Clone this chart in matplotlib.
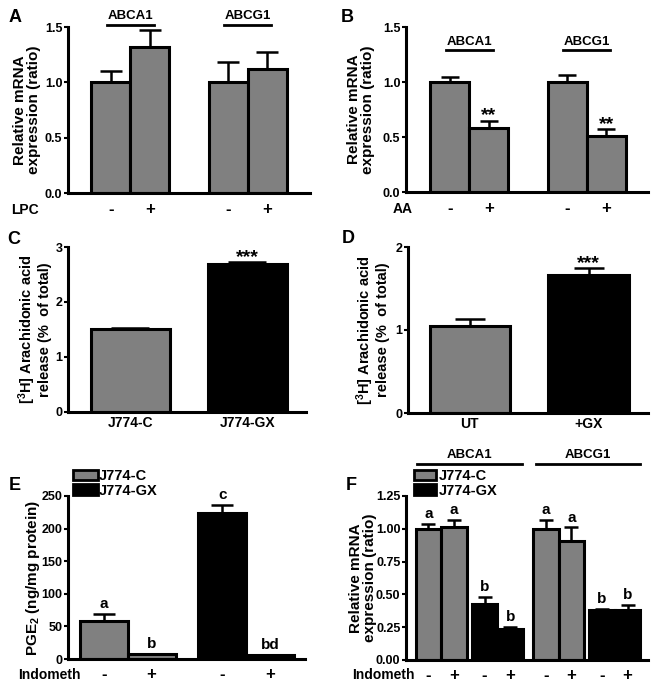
import matplotlib
matplotlib.use("agg")
import matplotlib.pyplot as plt
from matplotlib.patches import Patch

plt.rcParams['font.family'] = 'Liberation Sans'
plt.rcParams['font.weight'] = 'bold'
plt.rcParams['mathtext.fontset'] = 'custom'
plt.rcParams['mathtext.rm'] = 'Liberation Sans:bold'
plt.rcParams['mathtext.default'] = 'rm'

# data
a_vals = [1.00, 1.32, 1.00, 1.12]
a_err = [0.10, 0.15, 0.18, 0.15]
b_vals = [1.00, 0.58, 1.00, 0.51]
b_err = [0.05, 0.07, 0.06, 0.06]
b_marks = ['', '**', '', '**']
c_labels = ['J774-C', 'J774-GX']
c_vals = [1.51, 2.69]
c_err = [0.01, 0.04]
d_labels = ['UT', '+GX']
d_vals = [1.05, 1.66]
d_err = [0.08, 0.09]
e_vals = [58, 8, 224, 6]
e_err = [11, 0, 12, 0]
e_letters = ['a', 'b', 'c', 'bd']
f_vals = [1.00, 1.01, 0.43, 0.24, 1.00, 0.91, 0.38, 0.38]
f_err = [0.04, 0.06, 0.05, 0.01, 0.07, 0.10, 0.01, 0.04]
f_letters = ['a', 'a', 'b', 'b', 'a', 'a', 'b', 'b']
genes = ['ABCA1', 'ABCG1']
treat4 = ['-', '+', '-', '+']
treat8 = ['-', '+', '-', '+', '-', '+', '-', '+']

GRAY = '#808080'
W, H = 657, 691
fig = plt.figure(figsize=(W / 100, H / 100), dpi=100)


def add_ax(x0, y0, x1, y1):
    ax = fig.add_axes([x0 / W, 1 - y1 / H, (x1 - x0) / W, (y1 - y0) / H])
    ax.spines['top'].set_visible(False)
    ax.spines['right'].set_visible(False)
    ax.spines['left'].set_linewidth(2.2)
    ax.spines['bottom'].set_linewidth(2.2)
    ax.tick_params(axis='y', direction='out', length=3, width=1.5, labelsize=9, pad=1)
    ax.tick_params(axis='x', length=0, labelsize=12)
    return ax


def bars(ax, pos, vals, err, colors, cap):
    ax.bar(pos, vals, width=1, color=colors, edgecolor='black', linewidth=2.2, zorder=2)
    ax.errorbar(pos, vals, yerr=[[0] * len(vals), err], fmt='none', ecolor='black',
                elinewidth=1.8, capsize=cap, capthick=1.8, zorder=1)


def ylab(ax, x, text, size=11):
    ax.text(x, 0.5, text, transform=ax.transAxes, rotation=90, ha='center', va='center',
            fontsize=size, multialignment='center', linespacing=1.0)


# ---------- A ----------
pos4 = [0, 1, 3, 4]
ax = add_ax(68, 27, 310, 193)
bars(ax, pos4, a_vals, a_err, GRAY, 8)
ax.set_ylim(0, 1.5)
ax.set_xlim(-1.1, 5.1)
ax.set_yticks([0, 0.5, 1.0, 1.5])
ax.set_yticklabels(['0.0', '0.5', '1.0', '1.5'])
ax.set_xticks(pos4)
ax.set_xticklabels(treat4, va='center')
ax.tick_params(axis='x', pad=12)
ax.text(-0.18, -0.1, 'LPC', transform=ax.transAxes, ha='center', va='center', fontsize=10)
for g, c in zip(genes, [0.5, 3.5]):
    ax.text(c, 1.595, g, ha='center', va='center', fontsize=9.5)
    ax.plot([c - 0.6, c + 0.6], [1.52, 1.52], color='black', lw=2, clip_on=False)
ylab(ax, -0.17, 'Relative mRNA\nexpression (ratio)')
fig.text(15 / W, 1 - 18 / H, 'A', fontsize=13, ha='center', va='center')

# ---------- B ----------
ax = add_ax(406, 27, 648, 192)
bars(ax, pos4, b_vals, b_err, GRAY, 6.5)
ax.set_ylim(0, 1.5)
ax.set_xlim(-1.12, 5.07)
ax.set_yticks([0, 0.5, 1.0, 1.5])
ax.set_yticklabels(['0.0', '0.5', '1.0', '1.5'])
ax.set_xticks(pos4)
ax.set_xticklabels(treat4, va='center')
ax.tick_params(axis='x', pad=12)
ax.text(-0.015, -0.1, 'AA', transform=ax.transAxes, ha='center', va='center', fontsize=10)
for p, v, e, m in zip(pos4, b_vals, b_err, b_marks):
    ax.text(p, v + e, m, ha='center', va='baseline', fontsize=14)
for g, c in zip(genes, [0.5, 3.5]):
    ax.text(c, 1.36, g, ha='center', va='center', fontsize=9.5)
    ax.plot([c - 0.6, c + 0.6], [1.29, 1.29], color='black', lw=2, clip_on=False)
ylab(ax, -0.185, 'Relative mRNA\nexpression (ratio)')
fig.text(347 / W, 1 - 17 / H, 'B', fontsize=13, ha='center', va='center')

# ---------- C ----------
pos2 = [0, 1.48]
ax = add_ax(68, 247, 306, 412)
bars(ax, pos2, c_vals, c_err, [GRAY, 'black'], 14)
ax.set_ylim(0, 3)
ax.set_xlim(-0.79, 2.22)
ax.set_yticks([0, 1, 2, 3])
ax.set_xticks(pos2)
ax.set_xticklabels(c_labels, va='center', fontsize=10)
ax.tick_params(axis='x', pad=8)
ax.text(pos2[1], c_vals[1] + c_err[1], '***', ha='center', va='baseline', fontsize=14)
ylab(ax, -0.143, '[$^{3}$H] Arachidonic acid\nrelease (%  of total)', 10.5)
fig.text(14 / W, 1 - 240 / H, 'C', fontsize=13, ha='center', va='center')

# ---------- D ----------
ax = add_ax(408, 247, 648, 413)
bars(ax, pos2, d_vals, d_err, [GRAY, 'black'], 11)
ax.set_ylim(0, 2)
ax.set_xlim(-0.77, 2.22)
ax.set_yticks([0, 1, 2])
ax.set_xticks(pos2)
ax.set_xticklabels(d_labels, va='center', fontsize=10)
ax.tick_params(axis='x', pad=8)
ax.text(pos2[1], d_vals[1] + d_err[1], '***', ha='center', va='baseline', fontsize=14)
ylab(ax, -0.15, '[$^{3}$H] Arachidonic acid\nrelease (%  of total)', 10.5)
fig.text(348 / W, 1 - 239 / H, 'D', fontsize=13, ha='center', va='center')

# ---------- E ----------
pos_e = [0, 1, 2.48, 3.48]
cols4 = [GRAY, GRAY, 'black', 'black']
ax = add_ax(68, 496, 305, 659)
bars(ax, pos_e, e_vals, e_err, cols4, 8)
ax.set_ylim(0, 250)
ax.set_xlim(-0.75, 4.21)
ax.set_yticks([0, 50, 100, 150, 200, 250])
ax.set_xticks(pos_e)
ax.set_xticklabels(treat4, va='center')
ax.tick_params(axis='x', pad=11)
ax.text(-0.077, -0.098, 'Indometh', transform=ax.transAxes, ha='center', va='center', fontsize=10)
for p, v, e, l in zip(pos_e, e_vals, e_err, e_letters):
    ax.annotate(l, (p, v + e), xytext=(0, 2), textcoords='offset points',
                ha='center', va='bottom', fontsize=11)
ylab(ax, -0.148, 'PGE$_{2}$ (ng/mg protein)')
handles = [Patch(facecolor=GRAY, edgecolor='black', linewidth=2),
           Patch(facecolor='black', edgecolor='black', linewidth=2)]
ax.legend(handles, ['J774-C', 'J774-GX'], loc='lower left', bbox_to_anchor=(0.02, 0.99),
          frameon=False, fontsize=10.5, handlelength=1.7, handleheight=0.7,
          handletextpad=0.1, labelspacing=0.02, borderpad=0, borderaxespad=0)
fig.text(15 / W, 1 - 486 / H, 'E', fontsize=13, ha='center', va='center')

# ---------- F ----------
pos_f = [0, 1, 2.2, 3.2, 4.6, 5.6, 6.8, 7.8]
cols8 = [GRAY, GRAY, 'black', 'black', GRAY, GRAY, 'black', 'black']
ax = add_ax(406, 496, 648, 660)
bars(ax, pos_f, f_vals, f_err, cols8, 5)
ax.set_ylim(0, 1.25)
ax.set_xlim(-0.88, 8.6)
ax.set_yticks([0, 0.25, 0.5, 0.75, 1.0, 1.25])
ax.set_yticklabels(['0.00', '0.25', '0.50', '0.75', '1.00', '1.25'])
ax.set_xticks(pos_f)
ax.set_xticklabels(treat8, va='center')
ax.tick_params(axis='x', pad=11)
ax.text(-0.095, -0.094, 'Indometh', transform=ax.transAxes, ha='center', va='center', fontsize=10)
for p, v, e, l in zip(pos_f, f_vals, f_err, f_letters):
    ax.annotate(l, (p, v + e), xytext=(0, 2), textcoords='offset points',
                ha='center', va='bottom', fontsize=11)
for g, c in zip(genes, [1.6, 6.25]):
    ax.text(c, 1.56, g, ha='center', va='center', fontsize=9.5)
    ax.plot([c - 2.05, c + 2.05], [1.495, 1.495], color='black', lw=2, clip_on=False)
ylab(ax, -0.178, 'Relative mRNA\nexpression (ratio)')
ax.legend(handles, ['J774-C', 'J774-GX'], loc='lower left', bbox_to_anchor=(0.035, 0.99),
          frameon=False, fontsize=10.5, handlelength=1.5, handleheight=0.7,
          handletextpad=0.15, labelspacing=0.02, borderpad=0, borderaxespad=0)
fig.text(351 / W, 1 - 485 / H, 'F', fontsize=13, ha='center', va='center')

fig.savefig("out.png", dpi=100)
